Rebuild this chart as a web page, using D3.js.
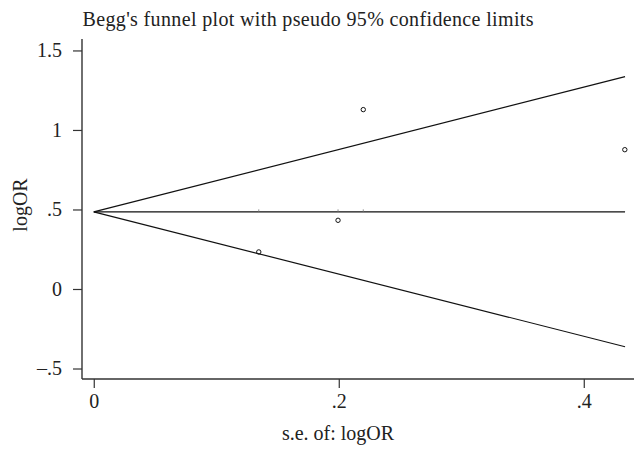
<!DOCTYPE html>
<html><head><meta charset="utf-8">
<script src="https://cdn.jsdelivr.net/npm/d3@7"></script>
<style>
body{margin:0;background:#fff;}
svg{display:block;}
</style></head>
<body>
<svg id="c" width="634" height="449"></svg>
<script>
const studySE = [0.1347, 0.1994, 0.2200, 0.4335];
const studyLogOR = [0.233, 0.432, 1.128, 0.876];
const funnelSE = [0, 0.4337];
const pooled = [0.485, 0.485];
const upperLimit = [0.485, 1.335];
const lowerLimit = [0.485, -0.363];
const xTicks = [0, 0.2, 0.4];
const xTickLabels = ["0", ".2", ".4"];
const yTicks = [-0.5, 0, 0.5, 1, 1.5];
const yTickLabels = ["\u2013.5", "0", ".5", "1", "1.5"];

const FONT = "'Liberation Serif', 'Times New Roman', serif";
const FS = 20;
const svg = d3.select("#c");
const x = d3.scaleLinear().domain([-0.0096, 0.441]).range([82, 634]);
const y = d3.scaleLinear().domain([-0.566, 1.572]).range([379, 39]);

// axes
const yAxis = svg.append("g").attr("transform", "translate(82,0)")
  .call(d3.axisLeft(y).tickValues(yTicks).tickSize(9).tickPadding(11)
    .tickFormat((d,i)=>yTickLabels[i]));
const xAxis = svg.append("g").attr("transform", "translate(0,379)")
  .call(d3.axisBottom(x).tickValues(xTicks).tickSize(9).tickPadding(6)
    .tickFormat((d,i)=>xTickLabels[i]));
[yAxis, xAxis].forEach(g=>{
  g.attr("font-family", null);
  g.select(".domain").attr("stroke","#333").attr("stroke-width",1.4);
  g.selectAll(".tick line").attr("stroke","#333").attr("stroke-width",1.2);
  g.selectAll(".tick text").attr("font-size",FS).attr("fill","#222")
    .style("font-family",FONT);
});
yAxis.select(".domain").attr("d","M0,39V379");
xAxis.select(".domain").attr("d","M82,0H634");

// funnel lines
const line = d3.line().x(d=>x(d[0])).y(d=>y(d[1]));
[pooled, upperLimit, lowerLimit].forEach(arr=>{
  svg.append("path").datum(funnelSE.map((s,i)=>[s,arr[i]]))
    .attr("d", line).attr("fill","none").attr("stroke","#111").attr("stroke-width",1.2);
});
// faint join marks on the pooled line at each study's s.e.
svg.selectAll("line.jm").data(studySE.slice(0,3)).enter().append("line")
  .attr("x1",d=>x(d)).attr("x2",d=>x(d))
  .attr("y1",y(pooled[0])-2.5).attr("y2",y(pooled[0]))
  .attr("stroke","#777").attr("stroke-width",0.8);

// points
svg.selectAll("circle.pt").data(studySE.map((s,i)=>[s,studyLogOR[i]]))
  .enter().append("circle").attr("class","pt")
  .attr("cx",d=>x(d[0])).attr("cy",d=>y(d[1])).attr("r",2.2)
  .attr("fill","none").attr("stroke","#111").attr("stroke-width",1);

// title and labels
svg.append("text").attr("x",82.5).attr("y",26).attr("font-size",FS)
  .style("font-family",FONT).attr("fill","#222")
  .attr("textLength",451).attr("lengthAdjust","spacing")
  .text("Begg's funnel plot with pseudo 95% confidence limits");
svg.append("text").attr("x",338).attr("y",440).attr("font-size",FS)
  .style("font-family",FONT).attr("fill","#222")
  .attr("text-anchor","middle").text("s.e. of: logOR");
svg.append("text").attr("transform","translate(27,205) rotate(-90)")
  .style("font-family",FONT).attr("fill","#222")
  .attr("font-size",FS).attr("text-anchor","middle").text("logOR");
</script>
</body></html>
